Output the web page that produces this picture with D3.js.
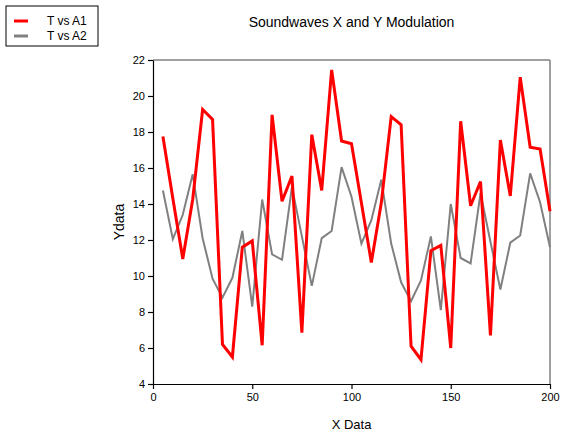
<!DOCTYPE html>
<html>
<head>
<meta charset="utf-8">
<script src="https://cdn.jsdelivr.net/npm/d3@7"></script>
<style>
  body { margin: 0; background: #fff; }
  text { font-family: "Liberation Sans", Arial, sans-serif; }
</style>
</head>
<body>
<div id="chart"></div>
<script>
// x values 5..200 step 5
var xData = [5, 10, 15, 20, 25, 30, 35, 40, 45, 50, 55, 60, 65, 70, 75, 80, 85, 90, 95, 100,
             105, 110, 115, 120, 125, 130, 135, 140, 145, 150, 155, 160, 165, 170, 175, 180, 185, 190, 195, 200];
var a1 = [17.75, 14.3, 10.95, 14.25, 19.25, 18.7, 6.2, 5.5, 11.6, 11.95, 6.15, 18.95, 14.15, 15.55, 6.85, 17.85, 14.75, 21.45, 17.5, 17.35,
          14.05, 10.75, 14.05, 18.85, 18.4, 6.1, 5.35, 11.4, 11.7, 6.0, 18.6, 13.9, 15.25, 6.7, 17.55, 14.45, 21.05, 17.15, 17.05, 13.6];
var a2 = [14.75, 12.05, 13.4, 15.65, 12.1, 9.85, 8.8, 9.9, 12.5, 8.3, 14.25, 11.2, 10.9, 14.95, 12.2, 9.45, 12.1, 12.5, 16.05, 14.4,
          11.8, 13.1, 15.35, 11.8, 9.65, 8.6, 9.75, 12.2, 8.1, 14.0, 11.0, 10.7, 14.6, 11.9, 9.25, 11.85, 12.25, 15.7, 14.1, 11.6];
var yTicks = [4, 6, 8, 10, 12, 14, 16, 18, 20, 22];
var xTicks = [0, 50, 100, 150, 200];
var seriesNames = ["T vs A1", "T vs A2"];
var seriesColors = ["#ff0000", "#808080"];

var W = 562, H = 432;
var pLeft = 153, pRight = 550, pTop = 60, pBottom = 384;

var svg = d3.select("#chart").append("svg")
    .attr("width", W)
    .attr("height", H);

var x = d3.scaleLinear().domain([0, 200]).range([pLeft, pRight]);
var y = d3.scaleLinear().domain([4, 22]).range([pBottom, pTop]);

// frame: gray top and right
svg.append("line").attr("x1", pLeft).attr("x2", pRight).attr("y1", pTop).attr("y2", pTop)
    .attr("stroke", "#808080").attr("stroke-width", 1.5);
svg.append("line").attr("x1", pRight).attr("x2", pRight).attr("y1", pTop).attr("y2", pBottom)
    .attr("stroke", "#808080").attr("stroke-width", 1.5);

var line = d3.line()
    .x(function(d, i) { return x(xData[i]); })
    .y(function(d) { return y(d); });

svg.append("path").datum(a2)
    .attr("d", line)
    .attr("fill", "none")
    .attr("stroke", seriesColors[1])
    .attr("stroke-width", 2);

svg.append("path").datum(a1)
    .attr("d", line)
    .attr("fill", "none")
    .attr("stroke", seriesColors[0])
    .attr("stroke-width", 3);

// axes
var yAxis = svg.append("g")
    .attr("transform", "translate(" + pLeft + ",0)")
    .call(d3.axisLeft(y).tickValues(yTicks).tickSize(5).tickPadding(3).tickSizeOuter(0));
var xAxis = svg.append("g")
    .attr("transform", "translate(0," + pBottom + ")")
    .call(d3.axisBottom(x).tickValues(xTicks).tickSize(5).tickPadding(4).tickSizeOuter(0));

[xAxis, yAxis].forEach(function(g) {
    g.selectAll("path, line").attr("stroke", "#000").attr("stroke-width", 1.2);
    g.selectAll("text").attr("font-size", 11).attr("fill", "#000")
        .attr("font-family", "'Liberation Sans', Arial, sans-serif");
});

// title and labels
svg.append("text")
    .attr("x", (pLeft + pRight) / 2).attr("y", 27)
    .attr("text-anchor", "middle")
    .attr("font-size", 14)
    .text("Soundwaves X and Y Modulation");

svg.append("text")
    .attr("x", (pLeft + pRight) / 2).attr("y", 429)
    .attr("text-anchor", "middle")
    .attr("font-size", 13)
    .text("X Data");

svg.append("text")
    .attr("transform", "translate(124," + (pTop + pBottom) / 2 + ") rotate(-90)")
    .attr("text-anchor", "middle")
    .attr("font-size", 14)
    .text("Ydata");

// legend
var legend = svg.append("g");
legend.append("rect")
    .attr("x", 6).attr("y", 6).attr("width", 92).attr("height", 40)
    .attr("fill", "#fff").attr("stroke", "#000").attr("stroke-width", 1);
seriesNames.forEach(function(name, i) {
    var ly = 21 + i * 15;
    legend.append("line")
        .attr("x1", 14).attr("x2", 28).attr("y1", ly).attr("y2", ly)
        .attr("stroke", seriesColors[i]).attr("stroke-width", 3);
    legend.append("text")
        .attr("x", 47).attr("y", ly + 4)
        .attr("font-size", 12)
        .text(name);
});
</script>
</body>
</html>
